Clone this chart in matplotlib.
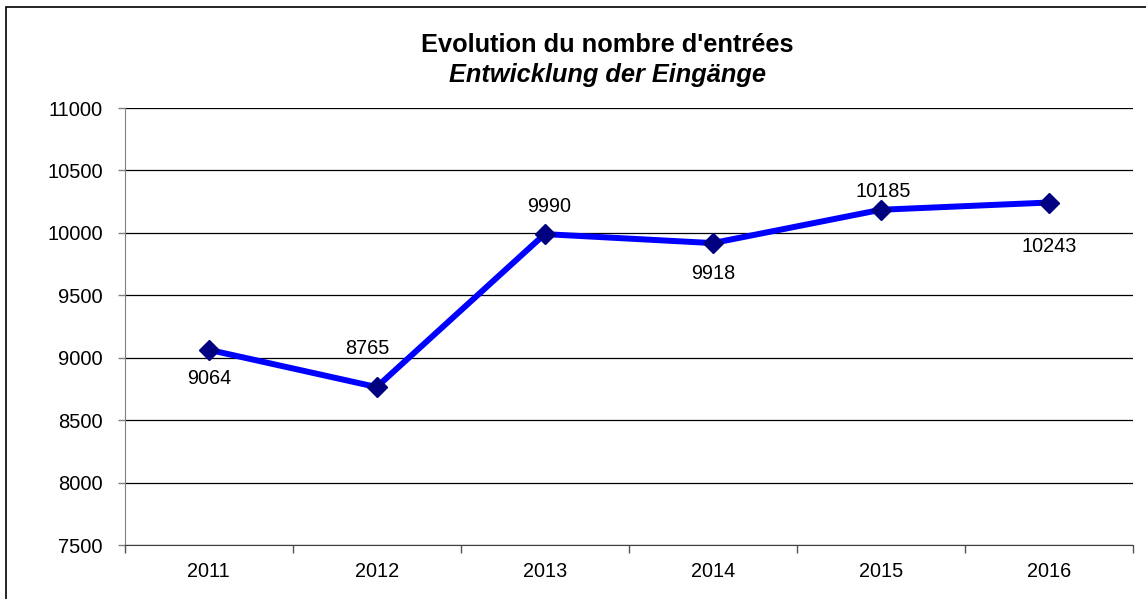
import matplotlib.pyplot as plt
from matplotlib.patches import Rectangle

# Data
years = ['2011', '2012', '2013', '2014', '2015', '2016']
entries = [9064, 8765, 9990, 9918, 10185, 10243]

# label offsets in pixels (dx, dy)
label_offsets = [(1, -29), (-9, 39), (4, 28), (0, -30), (2, 18), (0, -44)]

plt.rcParams['font.family'] = ['Liberation Sans', 'DejaVu Sans']

W, H = 1146, 599
fig = plt.figure(figsize=(W / 100, H / 100), dpi=100)

# outer chart frame
fig.patches.append(Rectangle((6 / W, -0.05), 1.1, 1 - 7 / H + 0.05, transform=fig.transFigure,
                             fill=False, edgecolor='black', linewidth=1.2))

ax = fig.add_axes([124.5 / W, (H - 545) / H, (1133 - 124.5) / W, (545 - 108) / H])

x = list(range(len(years)))
ax.plot(x, entries, color='#0000ff', linewidth=4.3, zorder=3,
        marker='D', markersize=10, markerfacecolor='#000080', markeredgecolor='#000080')

for xi, v, (dx, dy) in zip(x, entries, label_offsets):
    ax.annotate(str(v), (xi, v), textcoords='offset pixels', xytext=(dx, dy),
                ha='center', va='center', fontsize=14.3, zorder=4)

ax.set_xlim(-0.5, len(years) - 0.5)
ax.set_ylim(7500, 11000)
ax.set_yticks(range(7500, 11001, 500))
ax.tick_params(axis='y', direction='out', length=5, width=1, color='#808080',
               labelsize=14.5, pad=10.5)
ax.grid(axis='y', color='black', linewidth=0.9)
ax.set_axisbelow(True)

ax.set_xticks(x)
ax.set_xticklabels(years, fontsize=14.3)
ax.tick_params(axis='x', length=0, pad=12)
ax.set_xticks([i - 0.5 for i in range(len(years) + 1)], minor=True)
ax.tick_params(axis='x', which='minor', direction='out', length=6, width=1, color='#555555')

for s in ['top', 'right']:
    ax.spines[s].set_visible(False)
ax.spines['left'].set_color('#808080')
ax.spines['bottom'].set_color('#404040')

fig.text(607 / W, 1 - 45 / H, "Evolution du nombre d'entrées", ha='center', va='center',
         fontsize=18.3, fontweight='bold')
fig.text(607 / W, 1 - 75 / H, "Entwicklung der Eingänge", ha='center', va='center',
         fontsize=18.3, fontweight='bold', style='italic')

fig.savefig('out.png', dpi=100)
